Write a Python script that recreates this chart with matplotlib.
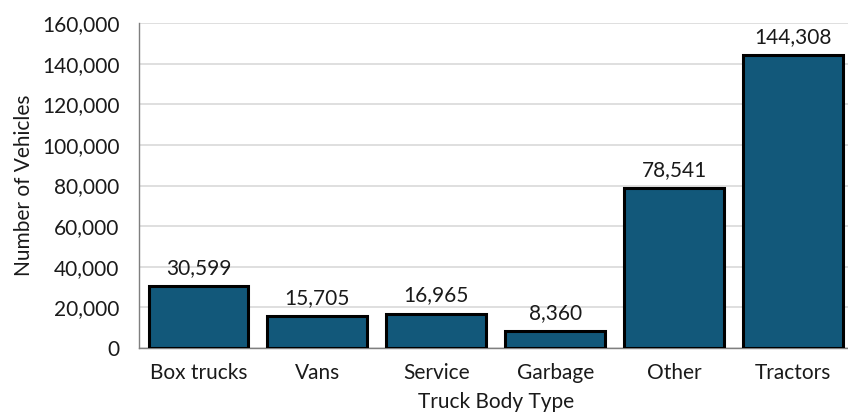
import matplotlib.pyplot as plt
from matplotlib.ticker import FuncFormatter

categories = ['Box trucks', 'Vans', 'Service', 'Garbage', 'Other', 'Tractors']
vehicles = [30599, 15705, 16965, 8360, 78541, 144308]

plt.rcParams['font.family'] = ['Lato', 'DejaVu Sans']

fig = plt.figure(figsize=(8.48, 4.18), dpi=100)
ax = fig.add_axes([139 / 848, 70 / 418, 713.5 / 848, 325 / 418])

x = range(len(categories))
bars = ax.bar(x, vehicles, width=0.84, color='#12587a', edgecolor='black', linewidth=2.2, zorder=3)

for b, v in zip(bars, vehicles):
    ax.text(b.get_x() + b.get_width() / 2, v + 4000, f'{v:,}', ha='center', va='bottom', fontsize=15, color='#1a1a1a')

ax.set_xlim(-0.5, 5.5)
ax.set_ylim(0, 160000)
ax.set_yticks(range(0, 160001, 20000))
ax.yaxis.set_major_formatter(FuncFormatter(lambda v, p: f'{int(v):,}'))
ax.set_xticks(list(x))
ax.set_xticklabels(categories)
ax.tick_params(axis='both', length=0, labelsize=15, colors='#1a1a1a')
ax.tick_params(axis='x', pad=11)
ax.tick_params(axis='y', pad=14)

ax.grid(axis='y', color='#d9d9d9', linewidth=1.2, zorder=0)
for s in ['top', 'right']:
    ax.spines[s].set_visible(False)
ax.spines['left'].set_color('#7f7f7f')
ax.spines['bottom'].set_color('#7f7f7f')
ax.spines['left'].set_linewidth(1)
ax.spines['bottom'].set_linewidth(1)

ax.set_xlabel('Truck Body Type', fontsize=15, color='#1a1a1a', labelpad=6)
ax.set_ylabel('Number of Vehicles', fontsize=15, color='#1a1a1a', labelpad=6)

fig.savefig('out.png', dpi=100)
